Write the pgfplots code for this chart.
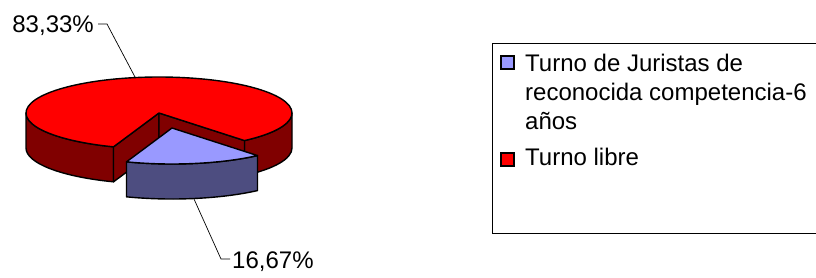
\documentclass[border=0pt]{standalone}
\usepackage{pgfplots}
\pgfplotsset{compat=1.18}
\usepackage{pgfplotstable}
\usepackage{fontspec}
\setmainfont{Liberation Sans}
\definecolor{redTop}{RGB}{255,0,0}
\definecolor{redSide}{RGB}{128,0,0}
\definecolor{blueTop}{RGB}{153,153,255}
\definecolor{blueSide}{RGB}{77,77,128}
\tikzset{pie/.style={draw=black, line width=1.4pt, line join=round}}

\pgfplotstableread[col sep=comma]{
label,value
Juristas,16.67
Libre,83.33
}\piedata
\pgfplotstablegetelem{0}{value}\of\piedata \let\vA\pgfplotsretval
\pgfplotstablegetelem{1}{value}\of\piedata \let\vB\pgfplotsretval
\pgfmathsetmacro{\aS}{250}
\pgfmathsetmacro{\aE}{\aS+3.6*\vA}
\pgfmathsetmacro{\aR}{\aE+3.6*\vB}
\def\cx{159}\def\cy{164}
\def\bx{172}\def\by{149}
\def\rx{133}\def\ry{36}\def\dd{35}

\begin{document}
\begin{tikzpicture}
\begin{axis}[
  scale only axis, width=816pt, height=277pt,
  xmin=0, xmax=816, ymin=0, ymax=277,
  hide axis, clip=true,
]
% red outer side (front parts)
\path[pie, fill=redSide] ([shift={(\aE:\rx pt and \ry pt)}]axis cs:\cx,\cy)
  arc[start angle=\aE, end angle=360, x radius=\rx pt, y radius=\ry pt]
  -- ++(0pt,-\dd pt)
  arc[start angle=360, end angle=\aE, x radius=\rx pt, y radius=\ry pt] -- cycle;
\path[pie, fill=redSide] ([shift={(540:\rx pt and \ry pt)}]axis cs:\cx,\cy)
  arc[start angle=540, end angle=\aR, x radius=\rx pt, y radius=\ry pt]
  -- ++(0pt,-\dd pt)
  arc[start angle=\aR, end angle=540, x radius=\rx pt, y radius=\ry pt] -- cycle;
% red radial faces
\path[pie, fill=redSide] (axis cs:\cx,\cy) -- ++(\aS:\rx pt and \ry pt) -- ++(0pt,-\dd pt)
  -- ([yshift=-\dd pt]axis cs:\cx,\cy) -- cycle;
\path[pie, fill=redSide] (axis cs:\cx,\cy) -- ++(\aE:\rx pt and \ry pt) -- ++(0pt,-\dd pt)
  -- ([yshift=-\dd pt]axis cs:\cx,\cy) -- cycle;
% red top
\path[pie, fill=redTop] (axis cs:\cx,\cy) -- ++(\aE:\rx pt and \ry pt)
  arc[start angle=\aE, end angle=\aR, x radius=\rx pt, y radius=\ry pt] -- cycle;
% blue side
\path[pie, fill=blueSide] ([shift={(\aS:\rx pt and \ry pt)}]axis cs:\bx,\by)
  arc[start angle=\aS, end angle=\aE, x radius=\rx pt, y radius=\ry pt]
  -- ++(0pt,-\dd pt)
  arc[start angle=\aE, end angle=\aS, x radius=\rx pt, y radius=\ry pt] -- cycle;
% blue top
\path[pie, fill=blueTop] (axis cs:\bx,\by) -- ++(\aS:\rx pt and \ry pt)
  arc[start angle=\aS, end angle=\aE, x radius=\rx pt, y radius=\ry pt] -- cycle;

% leaders and labels
\draw[line width=0.7pt] (axis cs:98,253) -- (axis cs:107,253) -- (axis cs:135,200);
\node[anchor=base east, inner sep=0pt, font=\fontsize{24}{29}\selectfont] at (axis cs:94,245) {83,33\%};
\draw[line width=0.7pt] (axis cs:194,78) -- (axis cs:221,18) -- (axis cs:230,18);
\node[anchor=base west, inner sep=0pt, font=\fontsize{24}{29}\selectfont] at (axis cs:232,9) {16,67\%};

% legend
\draw[line width=0.8pt] (axis cs:492,44) rectangle (axis cs:830,234);
\draw[fill=blueTop, line width=1.8pt] (axis cs:501,208) rectangle (axis cs:514,221);
\draw[fill=redTop, line width=1.8pt] (axis cs:501,111) rectangle (axis cs:514,124);
\begin{scope}[every node/.style={anchor=base west, inner sep=0pt, font=\fontsize{24}{29}\selectfont}]
\node at (axis cs:525,206) {Turno de Juristas de};
\node at (axis cs:525,177) {reconocida competencia-6};
\node at (axis cs:525,148) {años};
\node at (axis cs:525,112) {Turno libre};
\end{scope}
\end{axis}
\pgfresetboundingbox
\path (0,0) rectangle (816pt,277pt);
\end{tikzpicture}
\end{document}
